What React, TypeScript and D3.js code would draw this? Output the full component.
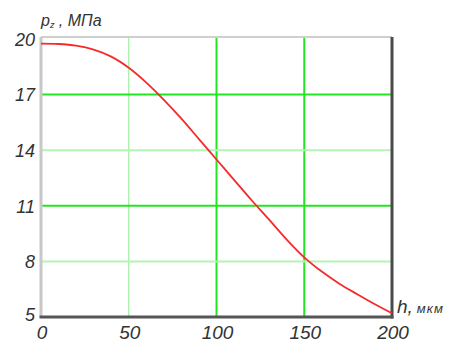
import React from "react";
import * as d3 from "d3";

// h, мкм
const hValues = [0, 10, 20, 30, 40, 50, 60, 70, 80, 90, 100, 110, 120, 130, 140, 150, 160, 170, 180, 190, 200];
// p_z, МПа
const pValues = [19.75, 19.73, 19.64, 19.43, 19.05, 18.45, 17.65, 16.72, 15.7, 14.6, 13.5, 12.4, 11.3, 10.25, 9.18, 8.22, 7.45, 6.8, 6.24, 5.7, 5.2];

const xTicks = [0, 50, 100, 150, 200];
const yTicks = [5, 8, 11, 14, 17, 20];
// major (bright) grid lines
const xMajor = [100, 150];
const yMajor = [11, 17];

const width = 465;
const height = 343;
const margin = { left: 41, right: 73, top: 39, bottom: 26 };

export default function App() {
  const x = d3
    .scaleLinear()
    .domain([0, 200])
    .range([margin.left, width - margin.right]);
  const y = d3
    .scaleLinear()
    .domain([5, 20])
    .range([height - margin.bottom, margin.top]);

  const line = d3
    .line<number>()
    .x((d, i) => x(hValues[i]))
    .y((d) => y(d))
    .curve(d3.curveCatmullRom);

  const font = "'Liberation Sans', Arial, sans-serif";
  const textColor = "#333";
  const top = y(20) - 2;

  return (
    <svg
      width={width}
      height={height}
      style={{ position: "absolute", left: 0, top: 0, background: "#fff" }}
    >
      {/* grid */}
      {xTicks
        .filter((t) => t > 0 && t < 200)
        .map((t) => (
          <line
            key={"gx" + t}
            x1={x(t)}
            x2={x(t)}
            y1={top}
            y2={y(5)}
            stroke={xMajor.includes(t) ? "#22e622" : "#9ef09e"}
            strokeWidth={xMajor.includes(t) ? 2 : 1.2}
          />
        ))}
      {yTicks
        .filter((t) => t > 5 && t < 20)
        .map((t) => (
          <line
            key={"gy" + t}
            x1={x(0)}
            x2={x(200)}
            y1={y(t)}
            y2={y(t)}
            stroke={yMajor.includes(t) ? "#22e622" : "#b4f4b4"}
            strokeWidth={2}
          />
        ))}

      {/* frame */}
      <line x1={x(0)} x2={x(200)} y1={top} y2={top} stroke="#cfcfcf" strokeWidth={2} />
      <line x1={x(0)} x2={x(0)} y1={top} y2={y(5)} stroke="#c8c8c8" strokeWidth={3} />
      <line x1={x(200)} x2={x(200)} y1={top} y2={y(5) + 1.5} stroke="#4a4a4a" strokeWidth={3} />
      <line x1={x(0) - 1.5} x2={x(200) + 1.5} y1={y(5)} y2={y(5)} stroke="#555" strokeWidth={3} />

      {/* curve */}
      <path d={line(pValues) ?? ""} fill="none" stroke="#f52a2a" strokeWidth={1.8} />

      {/* y tick labels */}
      {yTicks.map((t) => (
        <text
          key={"ly" + t}
          x={35}
          y={y(t) + (t === 5 ? -1 : 2)}
          textAnchor="end"
          dominantBaseline="middle"
          fontFamily={font}
          fontStyle="italic"
          fontSize={18}
          fill={textColor}
        >
          {t}
        </text>
      ))}

      {/* x tick labels */}
      {xTicks.map((t) => (
        <text
          key={"lx" + t}
          x={x(t) + 1}
          y={339}
          textAnchor="middle"
          fontFamily={font}
          fontStyle="italic"
          fontSize={19}
          fill={textColor}
        >
          {t}
        </text>
      ))}

      {/* axis titles */}
      <text x={41} y={26} fontFamily={font} fontStyle="italic" fontSize={16} fill={textColor}>
        p
        <tspan fontSize={9} dy={2}>z</tspan>
        <tspan dy={-2}> , МПа</tspan>
      </text>
      <text x={397} y={313} fontFamily={font} fontStyle="italic" fontSize={19} fill={textColor}>
        h,
        <tspan fontSize={13} dx={4} letterSpacing={1}>мкм</tspan>
      </text>
    </svg>
  );
}
